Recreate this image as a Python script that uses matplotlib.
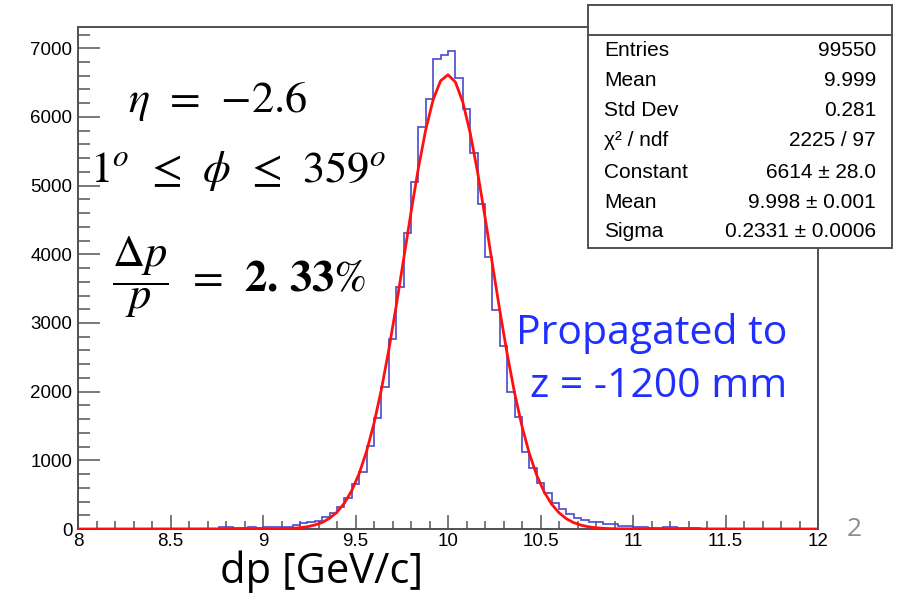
import numpy as np
import matplotlib.pyplot as plt
from matplotlib.patches import Rectangle
from matplotlib.lines import Line2D
from matplotlib.ticker import MultipleLocator

# histogram: 100 bins of 0.04 GeV/c between 8 and 12
edges = np.linspace(8.0, 12.0, 101)
counts = [1, 0, 1, 2, 1, 2, 2, 1, 3, 2, 3, 2, 4, 3, 4, 5, 4, 6, 7,
          22, 26, 14, 20, 27, 15, 30, 32, 31, 34,
          58, 87, 106, 116, 175, 233, 320, 451, 655, 830,
          1208, 1616, 2067, 2770, 3523, 4308, 5051, 5852, 6265, 6845,
          6900, 6958, 6565, 6110, 5470, 4730, 3963, 3188, 2670, 1994,
          1630, 1121, 888, 670, 524, 378, 290, 220, 160, 125,
          106, 100, 75, 70, 50, 46, 26, 22, 12, 10, 25, 30, 14, 10,
          8, 6, 7, 5, 4, 5, 3, 4, 3, 2, 3, 2, 1, 2, 1, 1, 0]

# gaus fit curve, sampled where it is above zero
fit_x = [8.0] + list(np.linspace(9.08, 10.92, 47)) + [12.0]
fit_y = [0, 3, 5.5, 10, 19, 33, 58, 96, 156, 246, 377, 560, 808, 1132, 1539,
         2033, 2609, 3248, 3927, 4611, 5257, 5818, 6254, 6527, 6614, 6508,
         6217, 5767, 5195, 4544, 3858, 3181, 2548, 1980, 1495, 1095, 780,
         539, 362, 236, 149, 92, 55, 32, 18, 10, 5, 3, 0]

stat_names = ["Entries", "Mean", "Std Dev", "χ² / ndf", "Constant", "Mean", "Sigma"]
stat_values = ["99550", "9.999", "0.281", "2225 / 97", "6614 ± 28.0",
               "9.998 ± 0.001", "0.2331 ± 0.0006"]

W, H = 902, 595
plt.rcParams['font.family'] = ['Liberation Sans', 'DejaVu Sans']
plt.rcParams['mathtext.fontset'] = 'stix'

fig = plt.figure(figsize=(W / 100, H / 100), dpi=100)
ax = fig.add_axes([78 / W, 1 - 529 / H, 740 / W, 502 / H])

ax.stairs(counts, edges, color='#4a4acc', lw=1.2, zorder=2)
ax.plot(fit_x, fit_y, color='#ff1010', lw=2.0, zorder=3)

ax.set_xlim(8, 12)
ax.set_ylim(0, 7310)
ax.xaxis.set_minor_locator(MultipleLocator(0.1))
ax.yaxis.set_major_locator(MultipleLocator(1000))
ax.yaxis.set_minor_locator(MultipleLocator(200))
ax.set_xticks([8, 8.5, 9, 9.5, 10, 10.5, 11, 11.5, 12])
ax.set_xticklabels(['8', '8.5', '9', '9.5', '10', '10.5', '11', '11.5', '12'])

tc = '#555555'
ax.tick_params(axis='x', which='major', direction='in', length=10, width=1.1,
               color=tc, pad=3, labelsize=13.5)
ax.tick_params(axis='x', which='minor', direction='in', length=5.5, width=1.1, color=tc)
ax.tick_params(axis='y', which='major', direction='in', length=16, width=1.1,
               color=tc, pad=4, labelsize=13.5)
ax.tick_params(axis='y', which='minor', direction='in', length=8.5, width=1.1, color=tc)
for s in ax.spines.values():
    s.set_color('#505050')
    s.set_linewidth(1.4)

def fx(x):
    return x / W

def fy(y):
    return 1 - y / H

# stats box
box = Rectangle((fx(588), fy(248)), (892 - 588) / W, (248 - 5) / H,
                transform=fig.transFigure, facecolor='white',
                edgecolor='#505050', lw=1.4, zorder=5)
fig.patches.append(box)
fig.add_artist(Line2D([fx(588), fx(892)], [fy(35), fy(35)],
                      color='#505050', lw=1.4, zorder=6))
row_y = [50, 81, 111, 141, 172, 202, 232]
for name, val, y in zip(stat_names, stat_values, row_y):
    fig.text(fx(604), fy(y), name, fontsize=15, va='center', ha='left', zorder=7)
    fig.text(fx(876), fy(y), val, fontsize=15, va='center', ha='right', zorder=7)

# annotations
fig.text(fx(128), fy(112), r'$\eta\;\,=\;\,{-}2.6$', fontsize=32, va='baseline')
fig.text(fx(90), fy(182), r'$1^{o}\;\,\leq\;\,\phi\;\,\leq\;\,359^{o}$', fontsize=32,
         va='baseline')
fig.text(fx(112), fy(277), r'$\dfrac{\Delta p}{p}\;\,=\;\,\mathbf{2.\,33}\%$',
         fontsize=32, va='center')

fig.text(fx(787), fy(333), 'Propagated to', family='Open Sans', fontsize=29.5,
         color='#1f2fff', ha='right', va='center')
fig.text(fx(787), fy(387), 'z = -1200 mm', family='Open Sans', fontsize=29.5,
         color='#1f2fff', ha='right', va='center')

fig.text(fx(322), fy(572), 'dp [GeV/c]', family='Open Sans', fontsize=30,
         ha='center', va='center')
fig.text(fx(854), fy(529), '2', family='Open Sans', fontsize=19,
         color='#8c8c8c', ha='center', va='center')

fig.savefig('out.png', dpi=100)
